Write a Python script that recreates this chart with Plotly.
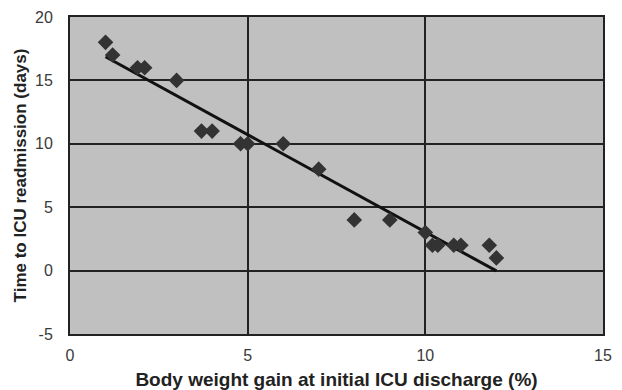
import numpy as np
import plotly.graph_objects as go

weight_gain = [1.0, 1.2, 1.9, 2.1, 3.0, 3.7, 4.0, 4.8, 5.0, 6.0, 7.0, 8.0, 9.0, 10.0, 10.2, 10.35, 10.8, 11.0, 11.8, 12.0]
days_to_readmission = [18, 17, 16, 16, 15, 11, 11, 10, 10, 10, 8, 4, 4, 3, 2, 2, 2, 2, 2, 1]
x_ticks = [0, 5, 10, 15]
y_ticks = [-5, 0, 5, 10, 15, 20]
y_tick_labels = ["-5", "0", "5", "10", "15", "20"]

slope, intercept = np.polyfit(weight_gain, days_to_readmission, 1)
trend_x = [min(weight_gain), max(weight_gain)]
trend_y = [slope * v + intercept for v in trend_x]

fig = go.Figure()
fig.add_trace(go.Scatter(x=trend_x, y=trend_y, mode="lines",
                         line=dict(color="#111111", width=3), hoverinfo="skip"))
fig.add_trace(go.Scatter(x=weight_gain, y=days_to_readmission, mode="markers",
                         marker=dict(symbol="diamond", size=12, color="#333333")))

font = "Liberation Sans, Arial, sans-serif"
fig.update_layout(
    width=622, height=390,
    margin=dict(l=70, r=19, t=17, b=56),
    paper_bgcolor="white", plot_bgcolor="#c0c0c0",
    showlegend=False,
    font=dict(family=font, size=16, color="#3a3a3a"),
    xaxis=dict(range=[0, 15], tickvals=x_ticks, showgrid=True, gridcolor="#222222", gridwidth=1.5,
               zeroline=False, showline=True, linecolor="#222222", linewidth=2, mirror=True,
               ticks="outside", ticklen=6, tickcolor="rgba(0,0,0,0)", automargin=False,
               title=dict(text="<b>Body weight gain at initial ICU discharge (%)</b>",
                          font=dict(size=19, color="#222222"), standoff=10)),
    yaxis=dict(range=[-5, 20], tickvals=y_ticks, ticktext=y_tick_labels,
               showgrid=True, gridcolor="#222222", gridwidth=1.5,
               zeroline=False, showline=True, linecolor="#222222", linewidth=2, mirror=True,
               ticks="outside", ticklen=12, tickcolor="rgba(0,0,0,0)", automargin=False,
               title=dict(text="<b>Time to ICU readmission (days)</b>",
                          font=dict(size=17, color="#222222"), standoff=4)),
)
fig.write_html("out.html")
